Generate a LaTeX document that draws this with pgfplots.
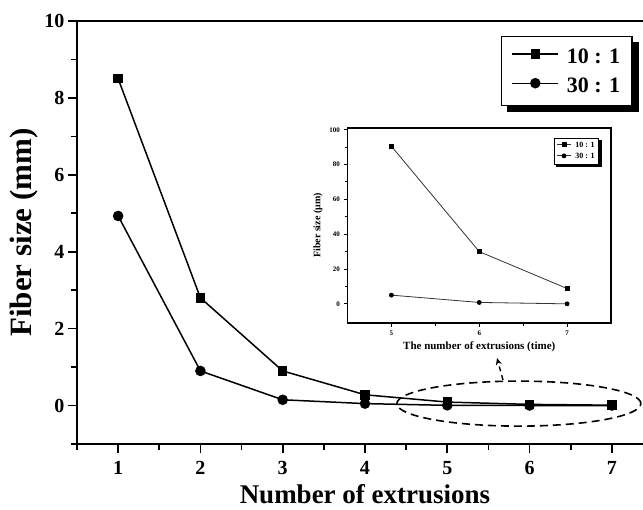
\documentclass[border=0pt]{standalone}
\usepackage{fontspec}
\setmainfont{Liberation Serif}
\usepackage{pgfplots}
\pgfplotsset{compat=1.18}
\usetikzlibrary{arrows.meta}

\begin{document}
\begin{tikzpicture}[x=1pt, y=1pt]

% main axis
\begin{axis}[
    at={(77pt,66pt)}, anchor=south west, scale only axis,
    width=576pt, height=423pt,
    xmin=0.5, xmax=7.5, ymin=-1, ymax=10,
    axis line style={line width=1.8pt},
    xtick={1,...,7}, ytick={0,2,...,10},
    minor xtick={0.5,1.5,...,7.5}, minor ytick={-1,1,...,9},
    xtick pos=bottom, ytick pos=left,
    tick align=outside,
    major tick length=9pt, minor tick length=6pt,
    tick style={line width=1.6pt, black},
    /pgf/number format/assume math mode=true,
    ticklabel style={font=\bfseries\fontsize{20}{21}\selectfont},
    xticklabel style={yshift=-5pt},
    xlabel={Number of extrusions},
    xlabel style={font=\bfseries\fontsize{27}{30}\selectfont, yshift=-3pt},
    ylabel={Fiber size (mm)},
    ylabel style={font=\bfseries\fontsize{31}{34}\selectfont},
    legend style={name=mainleg, at={(axis description cs:0.965,0.965)}, anchor=north east,
        draw=black, line width=1.4pt, fill=white,
        font=\bfseries\fontsize{22}{23}\selectfont,
        inner xsep=10pt, inner ysep=10pt, row sep=9pt, column sep=6pt},
    legend cell align=left,
    legend image code/.code={%
        \draw[#1, mark=none, line width=1.3pt] (0pt,2.5pt) -- (46pt,2.5pt);
        \draw[#1] plot coordinates {(23pt,2.5pt)};},
]
\addplot[black, line width=1.5pt, mark=square*, mark size=4pt, mark options={solid}]
    coordinates {(1,8.5) (2,2.8) (3,0.9) (4,0.28) (5,0.09) (6,0.03) (7,0.009)};
\addlegendentry{10 : 1}
\addplot[black, line width=1.5pt, mark=*, mark size=4.5pt, mark options={solid}]
    coordinates {(1,4.93) (2,0.9) (3,0.15) (4,0.05) (5,0.005) (6,0.001) (7,0.0003)};
\addlegendentry{30 : 1}

\draw[black, line width=1.6pt, dash pattern=on 8pt off 5pt]
    (axis cs:5.87,0.05) ellipse [x radius=122pt, y radius=22.5pt];
\end{axis}

% shadow of the main legend
\fill[black] ([yshift=-6pt]mainleg.north east) rectangle ([xshift=6pt,yshift=-6pt]mainleg.south east);
\fill[black] ([xshift=6pt]mainleg.south west) rectangle ([xshift=6pt,yshift=-6pt]mainleg.south east);

\draw[black, line width=1.4pt, dash pattern=on 5pt off 4pt, -{Stealth[length=7pt,width=6pt]}]
    (503,130) -- (497,152);

% inset axis
\begin{axis}[
    at={(347.5pt,187pt)}, anchor=south west, scale only axis,
    width=263.5pt, height=195pt,
    xmin=4.5, xmax=7.5, ymin=-11, ymax=101,
    axis line style={line width=1.2pt},
    axis background/.style={fill=white},
    xtick={5,6,7}, ytick={0,20,...,100},
    minor xtick={5.5,6.5}, minor ytick={10,30,...,90},
    xtick pos=bottom, ytick pos=left,
    tick align=outside,
    major tick length=4pt, minor tick length=3pt,
    tick style={line width=1pt, black},
    /pgf/number format/assume math mode=true,
    ticklabel style={font=\bfseries\fontsize{7}{8}\selectfont},
    xlabel={The number of extrusions (time)},
    xlabel style={font=\bfseries\fontsize{11}{12}\selectfont},
    ylabel={Fiber size (μm)},
    ylabel style={font=\bfseries\fontsize{10}{11}\selectfont},
    legend style={name=insetleg, at={(axis description cs:0.955,0.95)}, anchor=north east,
        draw=black, line width=0.8pt, fill=white,
        font=\bfseries\fontsize{8}{9}\selectfont,
        inner xsep=2pt, inner ysep=2pt, row sep=0.5pt, column sep=2pt},
    legend cell align=left,
    legend image code/.code={%
        \draw[#1, mark=none] (0pt,1pt) -- (14pt,1pt);
        \draw[#1] plot coordinates {(7pt,1pt)};},
]
\addplot[black!80, line width=0.8pt, mark=square*, mark size=2pt, mark options={solid, black}]
    coordinates {(5,90.5) (6,30) (7,8.8)};
\addlegendentry{10 : 1}
\addplot[black!80, line width=0.8pt, mark=*, mark size=2pt, mark options={solid, black}]
    coordinates {(5,5) (6,0.8) (7,0)};
\addlegendentry{30 : 1}
\end{axis}

% shadow of the inset legend
\fill[black] ([yshift=-2pt]insetleg.north east) rectangle ([xshift=2.5pt,yshift=-2.5pt]insetleg.south east);
\fill[black] ([xshift=2pt]insetleg.south west) rectangle ([xshift=2.5pt,yshift=-2.5pt]insetleg.south east);

% crop to the reference frame (the right edge of the main axis is cut off)
\pgfresetboundingbox
\useasboundingbox (0,0) rectangle (643,510);
\end{tikzpicture}
\end{document}
